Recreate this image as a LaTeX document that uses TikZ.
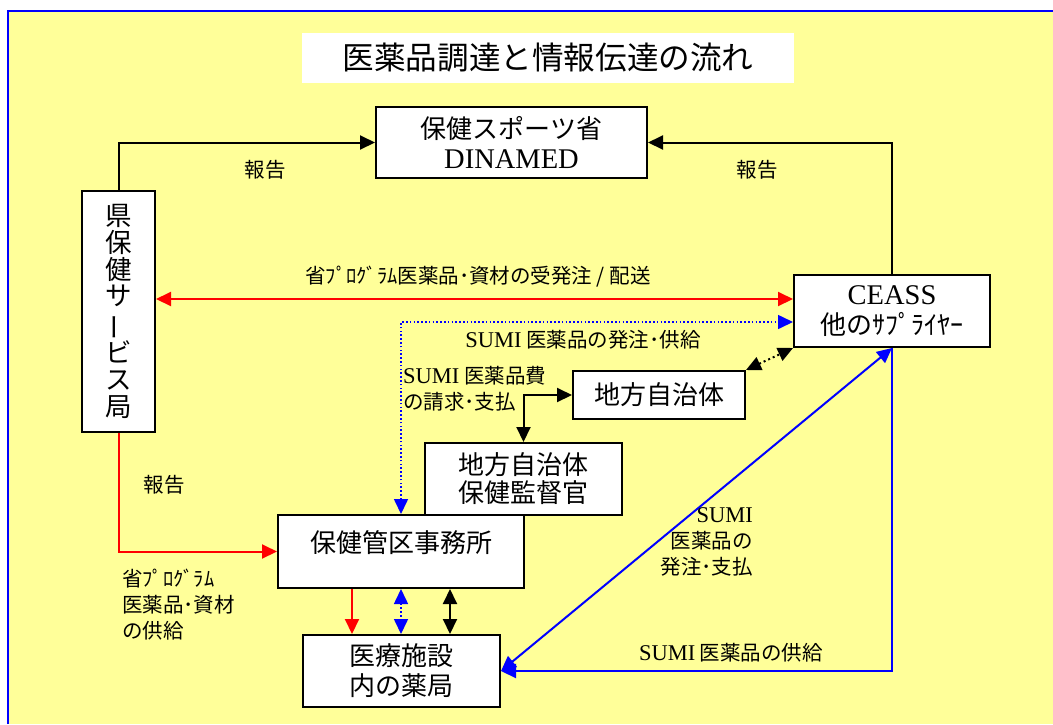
\documentclass[tikz,border=0pt]{standalone}
\usepackage{fontspec}
\setmainfont{Noto Sans CJK JP}
\newfontfamily\latinserif{Liberation Serif}
\usetikzlibrary{arrows.meta}

\definecolor{paper}{RGB}{255,255,153}
\definecolor{lineblue}{RGB}{0,0,255}
\definecolor{linered}{RGB}{255,0,0}

% Latin words inside the Japanese labels are set in a serif face
\newcommand{\sumiword}{{\latinserif\fontsize{22.5}{26}\selectfont SUMI}}
\newcommand{\bigserif}[1]{{\latinserif\fontsize{28.5}{30}\selectfont #1}}
\newcommand{\vbar}{\rotatebox[origin=c]{90}{ー}}

\tikzset{
  >={Triangle[length=15pt,width=14pt]},
  box/.style={draw=black, line width=2pt, fill=white, inner sep=0pt,
    align=center, font=\fontsize{26}{30}\selectfont},
  lbl/.style={inner sep=0pt, font=\fontsize{20.5}{26}\selectfont},
  blackline/.style={draw=black, line width=2pt},
  redline/.style={draw=linered, line width=2pt},
  blueline/.style={draw=lineblue, line width=2pt},
  bluedots/.style={draw=lineblue, line width=1.6pt, dash pattern=on 1.6pt off 2.2pt},
  blackdots/.style={draw=black, line width=2pt, dash pattern=on 2pt off 3pt},
}

\begin{document}
\begin{tikzpicture}[x=1pt, y=-1pt]
  \useasboundingbox (0,0) rectangle (1053,724);
  % sheet
  \fill[white] (0,0) rectangle (1053,724);
  \fill[paper] (8,11) rectangle (1053,724);
  \draw[lineblue, line width=2.5pt] (8,724) -- (8,11) -- (1053,11);

  % title
  \node[fill=white, minimum width=492pt, minimum height=50pt, inner sep=0pt,
        font=\fontsize{31.6}{34}\selectfont] (title) at (548,58) {医薬品調達と情報伝達の流れ};

  % organisations
  \node[box, minimum width=271pt, minimum height=71pt] (dinamed) at (511.5,142.5)
        {保健スポーツ省\\\bigserif{DINAMED}};
  \node[box, minimum width=73pt, minimum height=241pt, font=\fontsize{26.5}{26.7}\selectfont]
        (ken) at (118.5,311.5) {県\\保\\健\\サ\\\vbar\\ビ\\ス\\局};
  \node[box, minimum width=196pt, minimum height=72pt] (ceass) at (892,311)
        {\bigserif{CEASS}\\他のｻﾌﾟﾗｲﾔｰ};
  \node[box, minimum width=172pt, minimum height=48pt] (chiho) at (659,395) {地方自治体};
  \node[box, minimum width=197pt, minimum height=72pt, font=\fontsize{26}{28}\selectfont]
        (kantoku) at (523.5,479) {地方自治体\\保健監督官};
  \node[box, minimum width=246pt, minimum height=73pt,
        label={[anchor=center, yshift=9pt, font=\fontsize{26}{30}\selectfont]center:保健管区事務所}]
        (kanku) at (401,551.5) {};
  \node[box, minimum width=197pt, minimum height=72pt] (yakkyoku) at (401.5,671)
        {医療施設\\内の薬局};

  % reporting lines to the ministry
  \draw[blackline, ->] (ken.north) |- (dinamed.west);
  \draw[blackline, ->] (ceass.north) |- (dinamed.east);
  \node[lbl] (rep1) at (265,170) {報告};
  \node[lbl] (rep2) at (757,170) {報告};

  % programme medicines between the province and CEASS
  \draw[redline, <->] ([yshift=12pt]ceass.west) -- ([yshift=12pt]ceass.west -| ken.east);
  \node[lbl] (redlbl) at (478,277) {省ﾌﾟﾛｸﾞﾗﾑ医薬品･資材の受発注 / 配送};

  % SUMI orders and supply via the health district
  \draw[bluedots, <->] (kanku.north) |- ([yshift=-11pt]ceass.west);
  \node[lbl] (sumiord) at (583,340) {\sumiword{} 医薬品の発注･供給};

  % municipality links
  \draw[blackdots, <->] (chiho.north east) -- (ceass.south west);
  \draw[blackline, <->] (chiho.west) -| (kantoku.north);
  \node[lbl, anchor=north west, align=left] (billlbl) at (403,366)
        {\sumiword{} 医薬品費\\の請求･支払};

  % pharmacy and CEASS
  \draw[blueline, <->] (yakkyoku.east) -- (ceass.south);
  \draw[blueline, ->] (ceass.south) |- (yakkyoku.east);
  \node[lbl, anchor=north east, align=right] (paylbl) at (753,507)
        {\sumiword\\医薬品の\\発注･支払};
  \node[lbl] (supplbl) at (731,653) {\sumiword{} 医薬品の供給};

  % province to health district
  \draw[redline, ->] (ken.south) |- (kanku.west);
  \node[lbl] (rep3) at (164,485) {報告};
  \node[lbl, anchor=north west, align=left] (progsup) at (122,569)
        {省ﾌﾟﾛｸﾞﾗﾑ\\医薬品･資材\\の供給};

  % health district to pharmacy
  \draw[redline, ->] ([xshift=-49pt]kanku.south) -- ([xshift=-49pt]kanku.south |- yakkyoku.north);
  \draw[bluedots, <->] (kanku.south) -- (kanku.south |- yakkyoku.north);
  \draw[blackline, <->] ([xshift=49pt]kanku.south) -- ([xshift=49pt]kanku.south |- yakkyoku.north);
\end{tikzpicture}
\end{document}
